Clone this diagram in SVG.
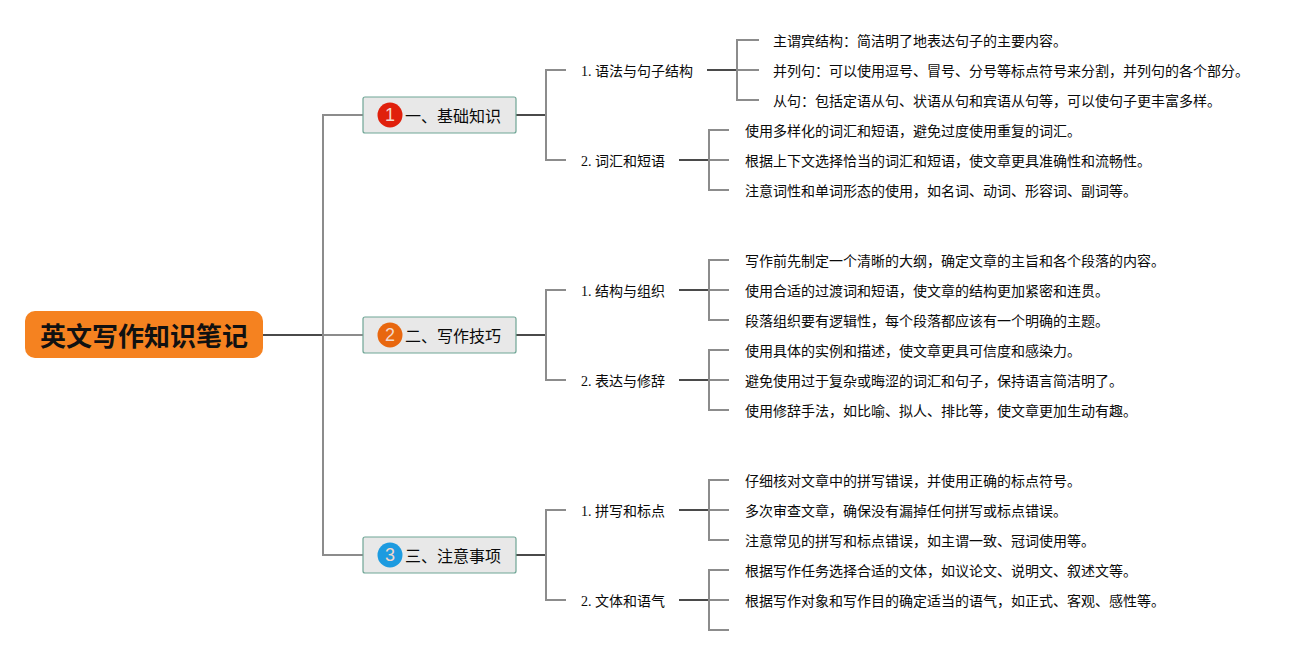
<svg xmlns="http://www.w3.org/2000/svg" width="1309" height="655" viewBox="0 0 1309 655">
<style>
text{font-family:"Liberation Serif","Noto Sans CJK SC",serif;fill:#0a0a0a;font-size:14px}
.root{font-family:"Noto Sans CJK SC",sans-serif;font-size:26px;font-weight:700;fill:#111;text-anchor:middle}
.main{font-family:"Noto Sans CJK SC",sans-serif;font-size:16px}
.num{font-family:"Liberation Sans",sans-serif;font-size:18px;fill:#f3d8cc;text-anchor:middle}
.box{fill:#e8e8e8;stroke:#6fa595;stroke-width:1.2}
.l{fill:none;stroke:#8c8c8c;stroke-width:2}
.d{fill:none;stroke:#4a4a4a;stroke-width:2}
</style>
<g id="connectors">
<path class="d" d="M263 335H323"/>
<path class="l" d="M363 115H323V555H363M323 335H363"/>
<path class="d" d="M516 115H546M516 335H546M516 555H546"/>
<path class="l" d="M566 70H546V160H566M566 290H546V380H566M566 510H546V600H566"/>
<path class="d" d="M707 70H737M679 160H709M679 290H709M679 380H709M679 510H709M679 600H709"/>
<path class="l" d="M759 40H737V100H759M737 70H759"/>
<path class="l" d="M729 130H709V190H729M709 160H729"/>
<path class="l" d="M729 260H709V320H729M709 290H729"/>
<path class="l" d="M729 350H709V410H729M709 380H729"/>
<path class="l" d="M729 480H709V540H729M709 510H729"/>
<path class="l" d="M729 570H709V630H729M709 600H729"/>
</g>
<g id="root"><rect x="25" y="311" width="238" height="47" rx="10" fill="#f58220"/><text class="root" x="144" y="346">英文写作知识笔记</text></g>
<g id="n1"><rect class="box" x="363" y="97" width="153" height="36" rx="2"/><circle cx="390" cy="115" r="12.5" fill="#e0200c"/><text class="num" x="390" y="121">1</text><text class="main" x="405" y="122">一、基础知识</text></g>
<g id="n2"><rect class="box" x="363" y="317" width="153" height="36" rx="2"/><circle cx="390" cy="335" r="12.5" fill="#e8670f"/><text class="num" x="390" y="341">2</text><text class="main" x="405" y="342">二、写作技巧</text></g>
<g id="n3"><rect class="box" x="363" y="537" width="153" height="36" rx="2"/><circle cx="390" cy="555" r="12.5" fill="#1d9be0"/><text class="num" x="390" y="561">3</text><text class="main" x="405" y="562">三、注意事项</text></g>
<g id="s11"><text x="581" y="76">1. 语法与句子结构</text></g>
<g id="s12"><text x="581" y="166">2. 词汇和短语</text></g>
<g id="s21"><text x="581" y="296">1. 结构与组织</text></g>
<g id="s22"><text x="581" y="386">2. 表达与修辞</text></g>
<g id="s31"><text x="581" y="516">1. 拼写和标点</text></g>
<g id="s32"><text x="581" y="606">2. 文体和语气</text></g>
<g id="leaves">
<text x="773" y="46">主谓宾结构：简洁明了地表达句子的主要内容。</text>
<text x="773" y="76">并列句：可以使用逗号、冒号、分号等标点符号来分割，并列句的各个部分。</text>
<text x="773" y="106">从句：包括定语从句、状语从句和宾语从句等，可以使句子更丰富多样。</text>
<text x="745" y="136">使用多样化的词汇和短语，避免过度使用重复的词汇。</text>
<text x="745" y="166">根据上下文选择恰当的词汇和短语，使文章更具准确性和流畅性。</text>
<text x="745" y="196">注意词性和单词形态的使用，如名词、动词、形容词、副词等。</text>
<text x="745" y="266">写作前先制定一个清晰的大纲，确定文章的主旨和各个段落的内容。</text>
<text x="745" y="296">使用合适的过渡词和短语，使文章的结构更加紧密和连贯。</text>
<text x="745" y="326">段落组织要有逻辑性，每个段落都应该有一个明确的主题。</text>
<text x="745" y="356">使用具体的实例和描述，使文章更具可信度和感染力。</text>
<text x="745" y="386">避免使用过于复杂或晦涩的词汇和句子，保持语言简洁明了。</text>
<text x="745" y="416">使用修辞手法，如比喻、拟人、排比等，使文章更加生动有趣。</text>
<text x="745" y="486">仔细核对文章中的拼写错误，并使用正确的标点符号。</text>
<text x="745" y="516">多次审查文章，确保没有漏掉任何拼写或标点错误。</text>
<text x="745" y="546">注意常见的拼写和标点错误，如主谓一致、冠词使用等。</text>
<text x="745" y="576">根据写作任务选择合适的文体，如议论文、说明文、叙述文等。</text>
<text x="745" y="606">根据写作对象和写作目的确定适当的语气，如正式、客观、感性等。</text>
</g>
</svg>
